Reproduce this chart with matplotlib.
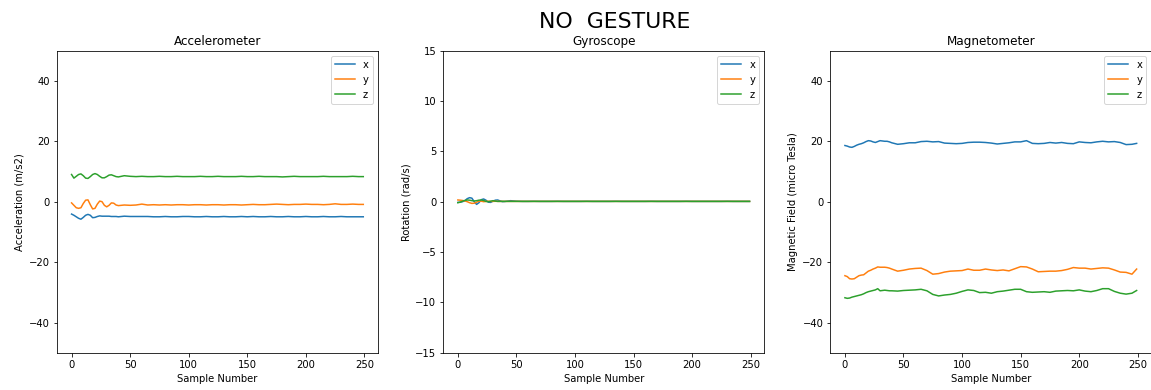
import matplotlib
matplotlib.use("Agg")
import matplotlib.pyplot as plt

# sample indices the values were read at
sample = list(range(0, 41, 2)) + list(range(45, 246, 5)) + [249]

# accelerometer (m/s2)
acc_x = [-4.1, -4.5, -5.0, -5.5, -5.8, -5.2, -4.5, -4.2, -4.5, -5.3, -5.2,
         -4.9, -4.7, -4.8, -4.8, -4.8, -4.8, -4.9, -4.9, -4.9, -5.0,
         -4.8, -4.9, -4.9, -4.9, -4.9, -5.0, -5.0, -4.9, -5.0, -5.0, -4.9,
         -4.9, -5.0, -5.0, -4.9, -5.0, -5.0, -4.9, -5.0, -5.0, -4.9, -5.0,
         -4.9, -5.0, -5.0, -4.9, -5.0, -5.0, -4.9, -5.0, -5.0, -4.9, -5.0,
         -5.0, -4.9, -5.0, -5.0, -4.9, -5.0, -5.0, -5.0, -5.0]
acc_y = [-0.4, -1.2, -2.0, -2.2, -2.0, -0.6, 0.5, 0.6, -1.0, -2.4, -2.2,
         -0.8, 0.2, 0.0, -1.2, -1.7, -1.2, -0.4, -0.5, -1.1, -1.3,
         -1.1, -1.2, -1.1, -0.8, -1.1, -1.0, -1.1, -1.0, -1.1, -1.0, -1.0,
         -1.1, -1.0, -1.0, -1.1, -1.0, -1.0, -1.1, -1.0, -1.0, -1.1, -1.0,
         -0.9, -1.0, -1.0, -0.9, -0.8, -0.9, -1.0, -0.9, -0.9, -0.8, -0.9,
         -0.9, -1.0, -0.9, -0.7, -0.9, -0.9, -0.8, -0.9, -0.9]
acc_z = [9.0, 7.8, 8.4, 9.0, 9.2, 8.6, 7.8, 7.7, 8.3, 9.0, 9.3,
         9.0, 8.4, 7.9, 7.9, 8.3, 8.8, 8.9, 8.6, 8.3, 8.2,
         8.6, 8.4, 8.3, 8.4, 8.3, 8.3, 8.4, 8.3, 8.3, 8.4, 8.3,
         8.3, 8.3, 8.4, 8.3, 8.3, 8.4, 8.3, 8.3, 8.3, 8.4, 8.3,
         8.3, 8.4, 8.3, 8.3, 8.3, 8.2, 8.3, 8.4, 8.3, 8.3, 8.3,
         8.3, 8.4, 8.3, 8.3, 8.3, 8.3, 8.4, 8.3, 8.3]

# gyroscope (rad/s)
gyr_x = [-0.07, -0.05, 0.0, 0.1, 0.3, 0.4, 0.35, 0.0, -0.27, -0.1, 0.2,
         0.27, 0.15, -0.05, -0.07, 0.05, 0.15, 0.17, 0.08, 0.0, 0.02,
         0.1, 0.05, 0.03, 0.03, 0.04, 0.03, 0.03, 0.03, 0.04, 0.03, 0.03,
         0.03, 0.03, 0.04, 0.03, 0.03, 0.03, 0.03, 0.04, 0.03, 0.03, 0.03,
         0.03, 0.03, 0.04, 0.03, 0.03, 0.03, 0.03, 0.03, 0.04, 0.03, 0.03,
         0.03, 0.03, 0.03, 0.03, 0.04, 0.03, 0.03, 0.03, 0.03]
gyr_y = [0.17, 0.15, 0.12, 0.08, 0.0, -0.1, -0.17, -0.15, -0.05, 0.05, 0.05,
         0.0, 0.02, 0.05, 0.03, 0.03, 0.04, 0.03, 0.03, 0.03, 0.03,
         0.03, 0.03, 0.03, 0.03, 0.03, 0.03, 0.03, 0.03, 0.03, 0.03, 0.03,
         0.03, 0.03, 0.03, 0.03, 0.03, 0.03, 0.03, 0.03, 0.03, 0.03, 0.03,
         0.03, 0.03, 0.03, 0.03, 0.03, 0.03, 0.03, 0.03, 0.03, 0.03, 0.03,
         0.03, 0.03, 0.03, 0.03, 0.03, 0.03, 0.03, 0.03, 0.03]
gyr_z = [-0.1, -0.05, 0.05, 0.12, 0.17, 0.15, 0.1, 0.07, 0.1, 0.15, 0.17,
         0.12, 0.03, 0.0, 0.05, 0.1, 0.06, 0.03, 0.03, 0.04, 0.03,
         0.03, 0.03, 0.03, 0.03, 0.03, 0.03, 0.03, 0.03, 0.03, 0.03, 0.03,
         0.03, 0.03, 0.03, 0.03, 0.03, 0.03, 0.03, 0.03, 0.03, 0.03, 0.03,
         0.03, 0.03, 0.03, 0.03, 0.03, 0.03, 0.03, 0.03, 0.03, 0.03, 0.03,
         0.03, 0.03, 0.03, 0.03, 0.03, 0.03, 0.03, 0.03, 0.03]

# magnetometer (micro Tesla)
mag_x = [18.6, 18.4, 18.1, 18.0, 18.3, 18.7, 19.0, 19.2, 19.5, 19.9, 20.2,
         20.1, 19.8, 19.6, 19.9, 20.2, 20.1, 20.0, 20.0, 19.8, 19.5,
         19.0, 19.2, 19.5, 19.5, 19.9, 20.0, 19.8, 19.9, 19.4, 19.3, 19.2,
         19.3, 19.6, 19.7, 19.7, 19.6, 19.4, 19.1, 19.3, 19.5, 19.8, 19.8,
         20.2, 19.3, 19.2, 19.3, 19.6, 19.4, 19.6, 19.3, 19.2, 19.8, 19.6,
         19.5, 19.8, 20.0, 19.8, 19.9, 19.6, 18.9, 19.0, 19.3]
mag_y = [-24.5, -24.8, -25.5, -25.6, -25.5, -25.0, -24.5, -24.3, -24.2, -23.6, -23.0,
         -22.7, -22.3, -22.0, -21.6, -21.7, -21.7, -21.7, -21.8, -22.0, -22.3,
         -23.0, -22.7, -22.3, -22.1, -22.0, -22.8, -24.0, -23.8, -23.3, -23.0, -22.9,
         -22.8, -22.3, -22.7, -22.7, -22.3, -22.6, -22.8, -22.6, -22.9, -22.2, -21.5,
         -21.6, -22.3, -23.2, -23.1, -23.0, -23.0, -22.8, -22.4, -21.8, -22.0, -22.0,
         -22.3, -22.1, -21.9, -22.0, -22.6, -23.3, -23.4, -24.0, -22.3]
mag_z = [-31.8, -32.0, -31.9, -31.6, -31.4, -31.2, -31.0, -30.8, -30.5, -30.1, -29.8,
         -29.6, -29.4, -29.2, -28.8, -29.5, -29.4, -29.3, -29.4, -29.5, -29.5,
         -29.6, -29.4, -29.3, -29.2, -29.0, -29.5, -30.7, -31.2, -30.9, -30.7, -30.3,
         -29.7, -29.2, -29.4, -30.1, -30.0, -30.3, -29.8, -29.6, -29.3, -29.0, -29.0,
         -29.8, -30.0, -29.9, -29.8, -30.0, -29.6, -29.5, -29.4, -29.5, -29.2, -29.6,
         -29.8, -29.4, -28.8, -28.8, -29.7, -30.3, -30.6, -30.3, -29.4]

panels = [
    ("Accelerometer", "Acceleration (m/s2)", (acc_x, acc_y, acc_z), (-50, 50)),
    ("Gyroscope", "Rotation (rad/s)", (gyr_x, gyr_y, gyr_z), (-15, 15)),
    ("Magnetometer", "Magnetic Field (micro Tesla)", (mag_x, mag_y, mag_z), (-50, 50)),
]
lefts = [0.0495, 0.3851, 0.7214]

fig = plt.figure(figsize=(1151 / 72, 390 / 72), dpi=72)
for left, (title, ylabel, series, ylim) in zip(lefts, panels):
    ax = fig.add_axes([left, 0.0956, 0.2788, 0.7745])
    for vals, lab in zip(series, ["x", "y", "z"]):
        ax.plot(sample, vals, label=lab)
    ax.set_ylim(ylim)
    ax.set_title(title, fontsize=12)
    ax.set_xlabel("Sample Number")
    ax.set_ylabel(ylabel)
    ax.legend(loc="upper right")

fig.suptitle("NO  GESTURE", fontsize=22, x=0.534, y=0.97, va="top")
fig.savefig("out.png", dpi=72)
